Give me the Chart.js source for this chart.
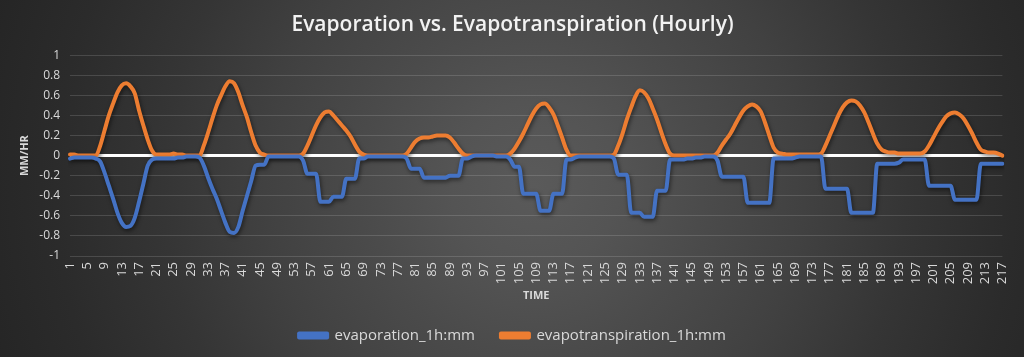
<!DOCTYPE html>
<html>
<head>
<meta charset="utf-8">
<script src="https://cdn.jsdelivr.net/npm/chart.js@4.4.1/dist/chart.umd.min.js"></script>
<style>
  html, body { margin: 0; padding: 0; }
  body {
    width: 1024px; height: 357px; overflow: hidden;
    background: radial-gradient(circle 600px at 535px 185px, #5a5a5a 0%, #545454 14%, #4b4b4b 28%, #414141 45%, #353535 62%, #2b2b2b 80%, #232323 100%);
  }
  #wrap { position: relative; width: 1024px; height: 357px; }
</style>
</head>
<body>
<div id="wrap"><canvas id="c" width="1024" height="357"></canvas></div>
<script>
const chartTitle = "Evaporation vs. Evapotranspiration (Hourly)";
const xTitle = "TIME";
const yTitle = "MM/HR";
const seriesNames = ["evaporation_1h:mm", "evapotranspiration_1h:mm"];

const hours = Array.from({ length: 217 }, (_, i) => String(i + 1));

const evaporation = [
  -0.03, -0.02, -0.02, -0.02, -0.02, -0.02, -0.03,
  -0.06, -0.17, -0.3, -0.43, -0.57, -0.67, -0.71, -0.7, -0.62, -0.46, -0.28, -0.1, -0.04, -0.03,
  -0.03, -0.03, -0.03, -0.03, -0.02, -0.02, -0.01, -0.01, -0.01, -0.02,
  -0.1, -0.22, -0.33, -0.43, -0.55, -0.67, -0.76, -0.77, -0.71, -0.55, -0.4, -0.25, -0.1, -0.09, -0.09,
  -0.01, -0.01, -0.01, -0.01, -0.01, -0.01, -0.01, -0.01,
  -0.05, -0.18, -0.18, -0.18, -0.46, -0.46, -0.46, -0.41, -0.41, -0.41, -0.23, -0.23, -0.23, -0.03, -0.03,
  -0.01, -0.01, -0.01, -0.01, -0.01, -0.01, -0.01, -0.01, -0.01,
  -0.03, -0.13, -0.13, -0.13, -0.22, -0.22, -0.22, -0.22, -0.22, -0.22, -0.2, -0.2, -0.2, -0.03,
  -0.03, -0.01, 0, 0, 0, 0, 0, -0.01, -0.01, -0.01,
  -0.04, -0.11, -0.11, -0.38, -0.38, -0.38, -0.38, -0.55, -0.55, -0.55, -0.38, -0.38, -0.38, -0.04, -0.04,
  -0.02, -0.01, -0.01, -0.01, -0.01, -0.01, -0.01, -0.01, -0.01,
  -0.03, -0.19, -0.19, -0.19, -0.57, -0.57, -0.57, -0.61, -0.61, -0.61, -0.35, -0.35, -0.35, -0.04,
  -0.04, -0.04, -0.04, -0.03, -0.03, -0.02, -0.02, -0.01, -0.01, -0.01,
  -0.05, -0.21, -0.21, -0.21, -0.21, -0.21, -0.21, -0.47, -0.47, -0.47, -0.47, -0.47, -0.47, -0.03, -0.03, -0.03,
  -0.03, -0.03, -0.02, -0.01, -0.01, -0.01, -0.01, -0.01,
  -0.01, -0.33, -0.33, -0.33, -0.33, -0.33, -0.33, -0.57, -0.57, -0.57, -0.57, -0.57, -0.57, -0.08, -0.08, -0.08, -0.08, -0.08,
  -0.07, -0.04, -0.04, -0.04, -0.04, -0.04,
  -0.04, -0.3, -0.3, -0.3, -0.3, -0.3, -0.3, -0.44, -0.44, -0.44, -0.44, -0.44, -0.44, -0.08, -0.08, -0.08, -0.08, -0.08, -0.08
];

const evapotranspiration = [
  0.01, 0.01, 0, 0, 0, 0, 0,
  0.1, 0.25, 0.4, 0.52, 0.63, 0.7, 0.72, 0.69, 0.62, 0.45, 0.3, 0.16, 0.05, 0.01,
  0.01, 0.01, 0.01, 0.02, 0.01, 0.01, 0, 0, 0, 0,
  0.1, 0.23, 0.37, 0.5, 0.6, 0.69, 0.74, 0.72, 0.63, 0.5, 0.38, 0.23, 0.1, 0.03, 0.01,
  0, 0, 0, 0, 0, 0, 0, 0,
  0.02, 0.1, 0.2, 0.3, 0.38, 0.43, 0.44, 0.4, 0.35, 0.3, 0.25, 0.19, 0.11, 0.04, 0.01,
  0, 0, 0, 0, 0, 0, 0, 0, 0,
  0.02, 0.08, 0.14, 0.17, 0.18, 0.18, 0.19, 0.2, 0.2, 0.2, 0.18, 0.13, 0.07, 0.02,
  0, 0, 0, 0, 0, 0, 0, 0, 0, 0,
  0.02, 0.07, 0.14, 0.22, 0.31, 0.4, 0.47, 0.51, 0.52, 0.48, 0.41, 0.3, 0.18, 0.06, 0,
  0, 0, 0, 0, 0, 0, 0, 0, 0,
  0.01, 0.1, 0.22, 0.36, 0.48, 0.59, 0.65, 0.63, 0.57, 0.47, 0.36, 0.23, 0.11, 0.02,
  0, 0, 0, 0, 0, 0, 0, 0, 0, 0,
  0.03, 0.1, 0.16, 0.22, 0.3, 0.38, 0.45, 0.49, 0.51, 0.49, 0.44, 0.33, 0.2, 0.08, 0.03, 0.02,
  0.01, 0.01, 0.01, 0.01, 0.01, 0.01, 0.01, 0.01,
  0.02, 0.1, 0.2, 0.3, 0.4, 0.48, 0.53, 0.55, 0.54, 0.5, 0.43, 0.33, 0.22, 0.12, 0.06, 0.04, 0.03, 0.03,
  0.02, 0.02, 0.02, 0.02, 0.02, 0.02,
  0.04, 0.1, 0.18, 0.26, 0.33, 0.39, 0.42, 0.43, 0.41, 0.37, 0.3, 0.22, 0.13, 0.06, 0.04, 0.03, 0.03, 0.02, 0
];

const yMin = -1, yMax = 1, yStep = 0.2;
const xTickEvery = 4;

const blue = "#4472C4";
const orange = "#ED7D31";
const textGrey = "#d9d9d9";

const shadowPlugin = {
  id: "lineShadow",
  beforeDatasetsDraw(chart) {
    const ctx = chart.ctx;
    ctx.save();
    ctx.shadowColor = "rgba(0,0,0,0.55)";
    ctx.shadowBlur = 4;
    ctx.shadowOffsetX = 1;
    ctx.shadowOffsetY = 2;
  },
  afterDatasetsDraw(chart) {
    chart.ctx.restore();
  }
};

new Chart(document.getElementById("c"), {
  type: "line",
  data: {
    labels: hours,
    datasets: [
      {
        label: seriesNames[0],
        data: evaporation,
        borderColor: blue,
        backgroundColor: blue,
        borderWidth: 4,
        pointRadius: 0,
        cubicInterpolationMode: "monotone",
        borderJoinStyle: "round",
        borderCapStyle: "round"
      },
      {
        label: seriesNames[1],
        data: evapotranspiration,
        borderColor: orange,
        backgroundColor: orange,
        borderWidth: 4,
        pointRadius: 0,
        cubicInterpolationMode: "monotone",
        borderJoinStyle: "round",
        borderCapStyle: "round"
      }
    ]
  },
  options: {
    responsive: false,
    animation: false,
    devicePixelRatio: 1,
    layout: { padding: { left: 18, right: 17, top: 10, bottom: 4 } },
    plugins: {
      title: {
        display: true,
        text: chartTitle,
        color: "#f2f2f2",
        font: { family: "'Open Sans', sans-serif", size: 21, weight: "600" },
        padding: { top: 2, bottom: 18 }
      },
      legend: {
        display: true,
        position: "bottom",
        labels: {
          color: textGrey,
          font: { family: "'Open Sans', sans-serif", size: 15 },
          boxWidth: 28,
          boxHeight: 4,
          padding: 26
        }
      },
      tooltip: { enabled: false }
    },
    scales: {
      x: {
        type: "category",
        offset: false,
        grid: { display: false, drawTicks: false },
        border: { display: false },
        ticks: {
          autoSkip: false,
          maxRotation: 90,
          minRotation: 90,
          color: textGrey,
          font: { family: "'Open Sans', sans-serif", size: 13 },
          padding: 6,
          callback: function (val, idx) {
            return idx % xTickEvery === 0 ? this.getLabelForValue(val) : null;
          }
        },
        title: {
          display: true,
          text: xTitle,
          color: textGrey,
          font: { family: "'Open Sans', sans-serif", size: 11, weight: "bold" },
          padding: { top: 2, bottom: 0 }
        },
        afterFit(scale) { scale.height = 46; }
      },
      y: {
        min: yMin,
        max: yMax,
        grid: {
          color: (c) => (c.tick && Math.abs(c.tick.value) < 1e-9 ? "#ffffff" : "rgba(255,255,255,0.14)"),
          lineWidth: (c) => (c.tick && Math.abs(c.tick.value) < 1e-9 ? 3 : 1),
          drawTicks: false
        },
        border: { display: false },
        ticks: {
          stepSize: yStep,
          color: textGrey,
          font: { family: "'Open Sans', sans-serif", size: 12 },
          padding: 10,
          callback: (v) => String(Math.round(v * 10) / 10)
        },
        title: {
          display: true,
          text: yTitle,
          color: textGrey,
          font: { family: "'Open Sans', sans-serif", size: 11, weight: "bold" },
          padding: { top: 0, bottom: 4 }
        },
        afterFit(scale) { scale.width = 52; }
      }
    }
  },
  plugins: [shadowPlugin]
});
</script>
</body>
</html>
